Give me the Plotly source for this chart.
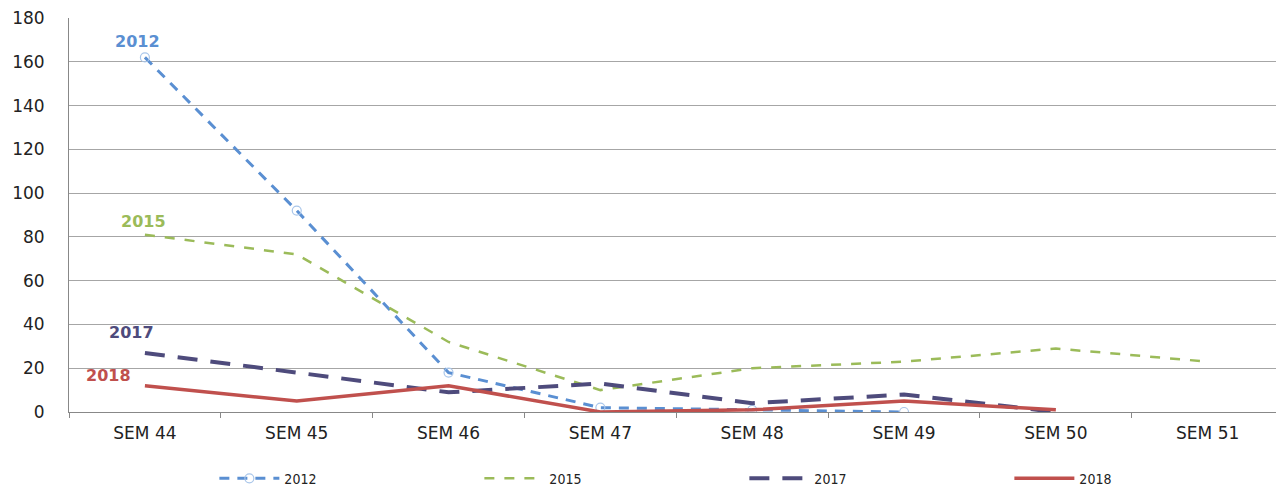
import plotly.graph_objects as go

weeks = ["SEM 44", "SEM 45", "SEM 46", "SEM 47", "SEM 48", "SEM 49", "SEM 50", "SEM 51"]
y2012 = [162, 92, 18, 2, 1, 0, None, None]
y2015 = [81, 72, 32, 10, 20, 23, 29, 23]
y2017 = [27, 18, 9, 13, 4, 8, 0, None]
y2018 = [12, 5, 12, 0, 1, 5, 1, None]

c2012 = "#5A8FD2"
c2015 = "#9BBB59"
c2017 = "#4E4B7C"
c2018 = "#C0504D"

fig = go.Figure()
fig.add_trace(go.Scatter(
    x=weeks, y=y2012, name="2012", mode="lines+markers",
    line=dict(color=c2012, width=3, dash="10px,8px"),
    marker=dict(symbol="circle-open", size=9, color="#A9C6EA", line=dict(width=1.2)),
))
fig.add_trace(go.Scatter(
    x=weeks, y=y2015, name="2015", mode="lines",
    line=dict(color=c2015, width=2.5, dash="10px,10px"),
))
fig.add_trace(go.Scatter(
    x=weeks, y=y2017, name="2017", mode="lines",
    line=dict(color=c2017, width=4, dash="20px,13px"),
))
fig.add_trace(go.Scatter(
    x=weeks, y=y2018, name="2018", mode="lines",
    line=dict(color=c2018, width=3.5),
))

# series names written beside the first week
labels = [("2012", y2012[0], c2012, -0.05, 4),
          ("2015", y2015[0], c2015, -0.01, 2),
          ("2017", y2017[0], c2017, -0.09, 9),
          ("2018", y2018[0], c2018, -0.24, -1)]
for text, yv, col, dx, dy in labels:
    fig.add_annotation(
        x=dx, y=yv, xref="x", yref="y", text=f"<b>{text}</b>", showarrow=False,
        yanchor="bottom", yshift=dy,
        font=dict(family="DejaVu Sans", size=16, color=col),
    )

fig.update_layout(
    width=1276, height=486,
    margin=dict(l=69, r=0, t=18, b=74, autoexpand=False),
    paper_bgcolor="white", plot_bgcolor="white",
    showlegend=True,
    legend=dict(
        orientation="h", xref="container", x=0.168, xanchor="left",
        yref="container", y=0.015, yanchor="middle",
        entrywidth=190, entrywidthmode="pixels", itemwidth=60,
        font=dict(family="DejaVu Sans Condensed", size=14, color="#222"),
        bgcolor="rgba(0,0,0,0)",
    ),
    font=dict(family="DejaVu Sans", color="#222"),
)
fig.update_xaxes(
    type="category", range=[-0.5, 7.45], tickson="boundaries",
    ticks="outside", ticklen=5, tickcolor="#888", showgrid=False,
    showline=True, linecolor="#888", linewidth=1,
    tickfont=dict(family="DejaVu Sans", size=17, color="#222"),
    ticklabelstandoff=6,
)
fig.update_yaxes(
    range=[0, 180], dtick=20, showgrid=True, gridcolor="#A6A6A6", gridwidth=1,
    showline=True, linecolor="#888", linewidth=1, zeroline=False,
    ticks="", ticklabelstandoff=20,
    tickfont=dict(family="DejaVu Sans", size=17, color="#222"),
)
fig.write_html("out.html")
